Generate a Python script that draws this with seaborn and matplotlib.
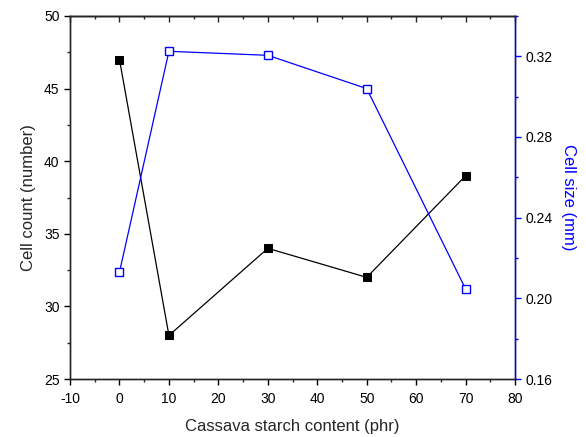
import matplotlib
matplotlib.use("Agg")
import matplotlib.pyplot as plt
from matplotlib.ticker import MultipleLocator, FixedLocator
import pandas as pd
import seaborn as sns

# Cassava starch content (phr) and the two measured foam properties
starch_phr = [0, 10, 30, 50, 70]
cell_count = [47, 28, 34, 32, 39]
cell_size_mm = [0.213, 0.3225, 0.3205, 0.304, 0.2046]

df = pd.DataFrame({"starch": starch_phr, "count": cell_count, "size": cell_size_mm})

sns.set_style("ticks")
plt.rcParams["font.family"] = ["Liberation Sans", "DejaVu Sans"]
plt.rcParams["font.size"] = 10
plt.rcParams["axes.unicode_minus"] = False

fig = plt.figure(figsize=(5.86, 4.37), dpi=100)
ax = fig.add_axes([0.1195, 0.1327, 0.7595, 0.8307])
ax2 = ax.twinx()

sns.lineplot(data=df, x="starch", y="count", ax=ax, color="black", lw=0.9,
             marker="s", markersize=5.8, markerfacecolor="black",
             markeredgecolor="black")
sns.lineplot(data=df, x="starch", y="size", ax=ax2, color="#0000ff", lw=0.9,
             marker="s", markersize=5.2, markerfacecolor="white",
             markeredgecolor="#0000ff", markeredgewidth=1.0)

ax.set_xlim(-10, 80)
ax.set_ylim(25, 50)
ax2.set_ylim(0.16, 0.34)

ax.xaxis.set_major_locator(MultipleLocator(10))
ax.xaxis.set_minor_locator(MultipleLocator(5))
ax.yaxis.set_major_locator(MultipleLocator(5))
ax.yaxis.set_minor_locator(MultipleLocator(2.5))
ax2.yaxis.set_major_locator(FixedLocator([0.16, 0.20, 0.24, 0.28, 0.32]))
ax2.yaxis.set_minor_locator(FixedLocator([0.18, 0.22, 0.26, 0.30, 0.34]))
ax2.set_yticklabels(["0.16", "0.20", "0.24", "0.28", "0.32"])

for a in (ax, ax2):
    for s in a.spines.values():
        s.set_linewidth(1.0)
        s.set_visible(True)

ax.tick_params(axis="both", which="major", direction="out", length=4.5,
               width=1.0, labelsize=10, colors="black", pad=3)
ax.tick_params(axis="x", which="major", pad=5)
ax.tick_params(axis="both", which="minor", direction="out", length=2.5,
               width=1.0)
ax.tick_params(axis="x", top=False)
ax.tick_params(axis="y", right=False)

# inward ticks along the top edge
top = ax.secondary_xaxis("top")
top.xaxis.set_major_locator(MultipleLocator(10))
top.xaxis.set_minor_locator(MultipleLocator(5))
top.tick_params(which="major", direction="in", length=4.5, width=1.0,
                labeltop=False)
top.tick_params(which="minor", direction="in", length=2.5, width=1.0)
top.spines["top"].set_linewidth(1.0)

ax2.spines["right"].set_color("#0000ff")
ax2.tick_params(axis="y", which="major", direction="out", length=4.5,
                width=1.0, color="#0000ff", labelcolor="black",
                labelsize=10, pad=3)
ax2.tick_params(axis="y", which="minor", direction="out", length=2.5,
                width=1.0, color="#0000ff")

ax.set_xlabel("Cassava starch content (phr)", fontsize=12, labelpad=9)
ax.set_ylabel("Cell count (number)", fontsize=12, labelpad=6)
ax2.set_ylabel("Cell size (mm)", fontsize=12, color="#0000ff",
               rotation=270, labelpad=17)

fig.savefig("out.png", dpi=100)
